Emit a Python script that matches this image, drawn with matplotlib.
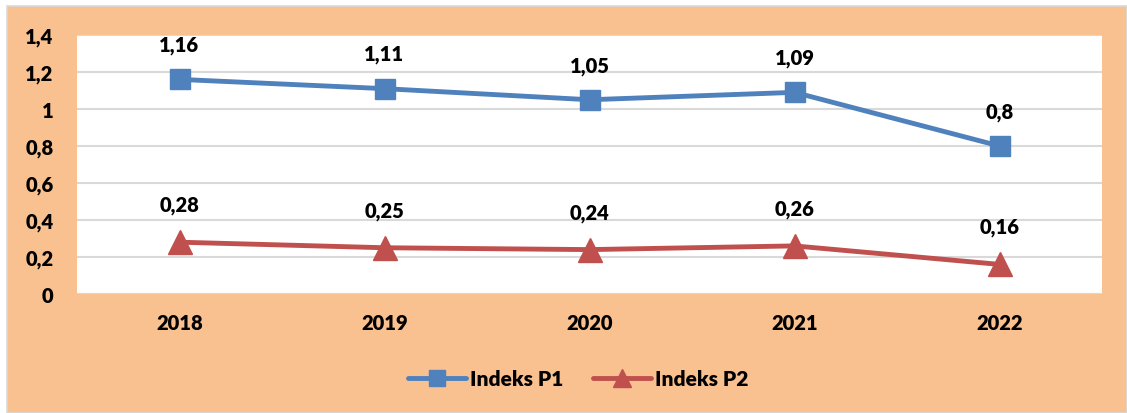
import numpy as np
import matplotlib.pyplot as plt
from matplotlib.patches import Rectangle
from matplotlib.ticker import FuncFormatter

years = ["2018", "2019", "2020", "2021", "2022"]
p1 = [1.16, 1.11, 1.05, 1.09, 0.8]
p2 = [0.28, 0.25, 0.24, 0.26, 0.16]

plt.rcParams['font.family'] = ['Lato', 'DejaVu Sans']
plt.rcParams['font.weight'] = 'heavy'
W_TXT = 'heavy'

fig = plt.figure(figsize=(11.27, 4.14), dpi=100)
fig.patch.set_facecolor('white')
W, H = 1127, 414
fig.patches.append(Rectangle((7 / W, 0), 1 - 7 / W, 1 - 7 / H, transform=fig.transFigure,
                             facecolor='#F9C190', edgecolor='#D9D9D9', linewidth=1.2, zorder=-1))

ax = fig.add_axes([77 / W, 1 - 295 / H, (1102 - 77) / W, (295 - 36) / H])
ax.set_facecolor('white')

x = np.arange(len(years))
ax.plot(x, p1, color='#4F81BD', linewidth=3.5, marker='s', markersize=15, label='Indeks P1',
        solid_capstyle='round', zorder=3)
ax.plot(x, p2, color='#C0504D', linewidth=3.5, marker='^', markersize=17, label='Indeks P2',
        solid_capstyle='round', zorder=3)

for xi, v in zip(x, p1):
    ax.annotate(('%g' % v).replace('.', ','), (xi, v), xytext=(0, 25), textcoords='offset points',
                ha='center', va='center', fontsize=14.5, fontweight=W_TXT)
for xi, v in zip(x, p2):
    ax.annotate(('%g' % v).replace('.', ','), (xi, v), xytext=(0, 27), textcoords='offset points',
                ha='center', va='center', fontsize=14.5, fontweight=W_TXT)

ax.set_xlim(-0.5, 4.5)
ax.set_ylim(0, 1.4)
ax.set_yticks(np.arange(0, 1.41, 0.2))
ax.yaxis.set_major_formatter(FuncFormatter(lambda v, p: ('%g' % round(v, 1)).replace('.', ',')))
ax.set_xticks(x)
ax.set_xticklabels(years)
ax.tick_params(length=0, labelsize=14.5, pad=14)
ax.tick_params(axis='y', pad=17)
for lab in ax.get_xticklabels() + ax.get_yticklabels():
    lab.set_fontweight(W_TXT)
ax.grid(axis='y', color='#D9D9D9', linewidth=1.5)
ax.set_axisbelow(True)
for s in ax.spines.values():
    s.set_visible(False)
ax.axhline(0, color='#D9D9D9', linewidth=1.5)

leg = fig.legend(loc='center', bbox_to_anchor=(578 / W, 1 - 380 / H), ncol=2, frameon=False,
                 handlelength=2.8, columnspacing=1.4, handletextpad=0.2, markerscale=0.8,
                 prop={'weight': W_TXT, 'size': 15})

fig.savefig('out.png', dpi=100)
